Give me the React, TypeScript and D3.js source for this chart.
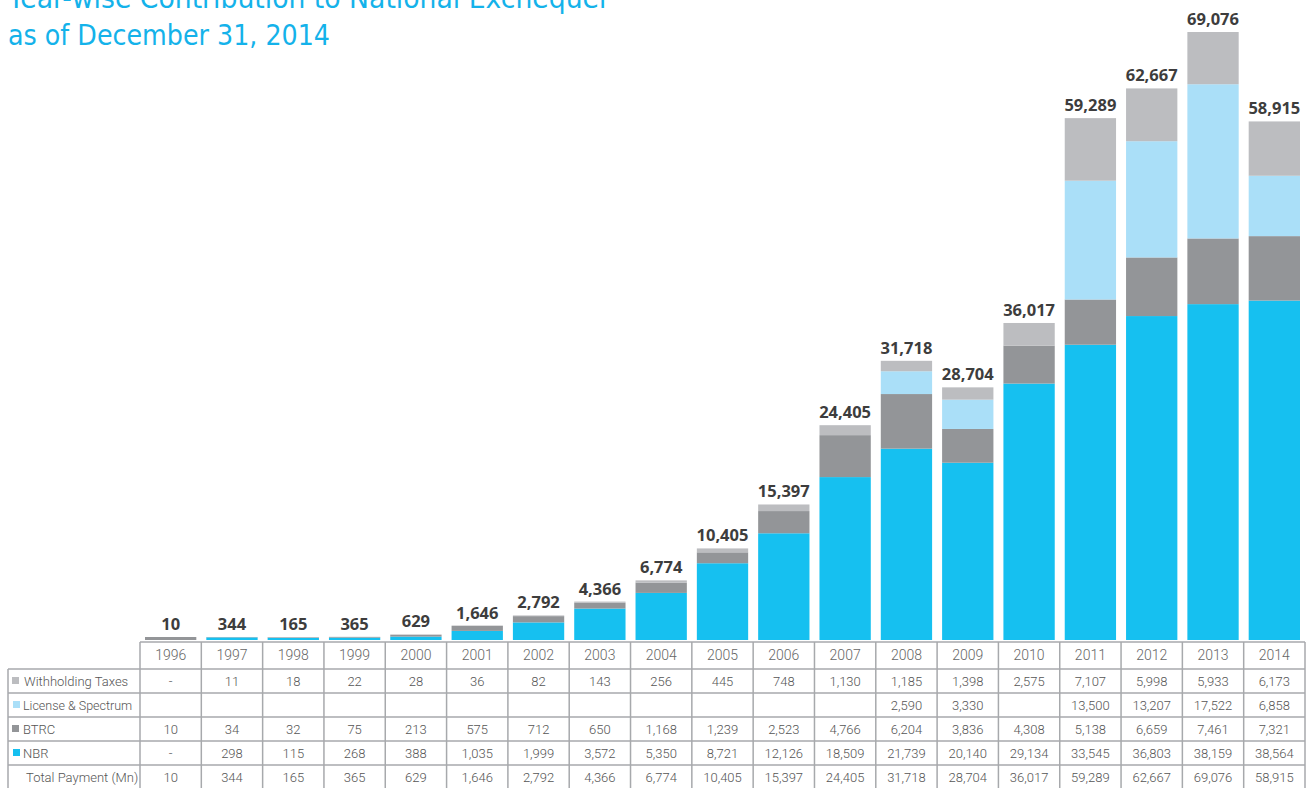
import React from "react";
import * as d3 from "d3";

const years = ["1996","1997","1998","1999","2000","2001","2002","2003","2004","2005","2006","2007","2008","2009","2010","2011","2012","2013","2014"];
const withholding: (number | null)[] = [null,11,18,22,28,36,82,143,256,445,748,1130,1185,1398,2575,7107,5998,5933,6173];
const license: (number | null)[] = [null,null,null,null,null,null,null,null,null,null,null,null,2590,3330,null,13500,13207,17522,6858];
const btrc: (number | null)[] = [10,34,32,75,213,575,712,650,1168,1239,2523,4766,6204,3836,4308,5138,6659,7461,7321];
const nbr: (number | null)[] = [null,298,115,268,388,1035,1999,3572,5350,8721,12126,18509,21739,20140,29134,33545,36803,38159,38564];
const totals = [10,344,165,365,629,1646,2792,4366,6774,10405,15397,24405,31718,28704,36017,59289,62667,69076,58915];

const seriesNames = ["Withholding  Taxes", "License & Spectrum", "BTRC", "NBR"];
const seriesColors = ["#bcbdc0", "#aadff8", "#939598", "#16c0f0"];
const seriesData = [withholding, license, btrc, nbr];
const dashWhenMissing = [true, false, false, true];

const titleLines = ["Year-wise Contribution to National Exchequer", "as of December 31, 2014"];

const fmt = d3.format(",");

export default function App() {
  const W = 1308, H = 788;
  const tableLeft = 8, colLeft = 140, colRight = 1305;
  const headerTop = 642, rowTop = 669, rowH = 24;
  const baseY = 640, topY = 32;

  const x = d3.scaleBand<string>().domain(years).range([colLeft, colRight]).paddingInner(0).paddingOuter(0);
  const y = d3.scaleLinear().domain([0, d3.max(totals) as number]).range([baseY, topY]);
  const bw = x.bandwidth();
  const barPad = 5;

  // stack order bottom -> top: NBR, BTRC, License, Withholding
  const stackOrder = [3, 2, 1, 0];
  const lineColor = "#a7a9ac";
  const tableFont = "Roboto, 'Liberation Sans', sans-serif";
  const minH = 3;

  const bars: JSX.Element[] = [];
  years.forEach((yr, i) => {
    const sum = stackOrder.reduce((a, s) => a + (seriesData[s][i] ?? 0), 0);
    const rawH = baseY - y(sum);
    const k = rawH < minH && rawH > 0 ? minH / rawH : 1;
    let cum = 0;
    stackOrder.forEach((s) => {
      const v = seriesData[s][i] ?? 0;
      if (v <= 0) return;
      const y0 = baseY - (baseY - y(cum)) * k;
      const y1 = baseY - (baseY - y(cum + v)) * k;
      bars.push(
        <rect key={`b-${yr}-${s}`} x={(x(yr) as number) + barPad} y={y1} width={bw - 2 * barPad} height={y0 - y1} fill={seriesColors[s]} />
      );
      cum += v;
    });
    const topPix = baseY - (baseY - y(cum)) * k;
    bars.push(
      <text key={`t-${yr}`} x={(x(yr) as number) + bw / 2} y={topPix - 7} textAnchor="middle" fontFamily="'Open Sans', Roboto, sans-serif" fontWeight={700} fontSize={16.5} fill="#3d3d3d">
        {fmt(totals[i])}
      </text>
    );
  });

  const rowLabels = [...seriesNames, "Total Payment (Mn)"];
  const nRows = rowLabels.length;
  const labelX = [24, 23, 23, 23, 26];
  const squareX = [12, 13, 12, 13];

  return (
    <svg width={W} height={H} style={{ position: "absolute", left: 0, top: 0, background: "#fff" }}>
      {titleLines.map((t, i) => (
        <text key={t} x={8} y={8 + i * 37} fontFamily="'DejaVu Sans Condensed', 'Liberation Sans Narrow', sans-serif" fontSize={29} fill="#14b2ea"
          textLength={i === 0 ? 602 : 322} lengthAdjust="spacingAndGlyphs">
          {t}
        </text>
      ))}
      {bars}
      {/* table header years */}
      {years.map((yr) => (
        <text key={`yr-${yr}`} x={(x(yr) as number) + bw / 2} y={headerTop + 18} textAnchor="middle" fontFamily={tableFont} fontWeight={300} fontSize={14} fill="#666">
          {yr}
        </text>
      ))}
      {/* row labels & cells */}
      {rowLabels.map((lab, r) => {
        const ry = rowTop + r * rowH;
        const isSeries = r < 4;
        return (
          <g key={`row-${r}`}>
            {isSeries && <rect x={squareX[r]} y={ry + 8} width={7} height={7} fill={seriesColors[r]} />}
            <text x={labelX[r]} y={ry + 17} fontFamily={tableFont} fontWeight={300} fontSize={r === 1 ? 12.5 : 13} fill="#555">
              {lab}
            </text>
            {years.map((yr, i) => {
              let txt = "";
              if (isSeries) {
                const v = seriesData[r][i];
                txt = v == null ? (dashWhenMissing[r] && i === 0 ? "-" : "") : fmt(v);
              } else {
                txt = fmt(totals[i]);
              }
              return (
                <text key={`c-${r}-${yr}`} x={(x(yr) as number) + bw / 2} y={ry + 17} textAnchor="middle" fontFamily={tableFont} fontWeight={300} fontSize={13} fill="#555">
                  {txt}
                </text>
              );
            })}
          </g>
        );
      })}
      {/* grid lines */}
      <line x1={colLeft} x2={colRight} y1={headerTop} y2={headerTop} stroke={lineColor} strokeWidth={1.5} />
      {d3.range(nRows + 1).map((r) => (
        <line key={`h-${r}`} x1={tableLeft} x2={colRight} y1={rowTop + r * rowH} y2={rowTop + r * rowH} stroke={lineColor} strokeWidth={1.5} />
      ))}
      <line x1={tableLeft} x2={tableLeft} y1={rowTop} y2={H} stroke={lineColor} strokeWidth={1.5} />
      {years.map((yr) => (
        <line key={`v-${yr}`} x1={x(yr) as number} x2={x(yr) as number} y1={headerTop} y2={H} stroke={lineColor} strokeWidth={1.5} />
      ))}
      <line x1={colRight} x2={colRight} y1={headerTop} y2={H} stroke={lineColor} strokeWidth={1.5} />
    </svg>
  );
}
